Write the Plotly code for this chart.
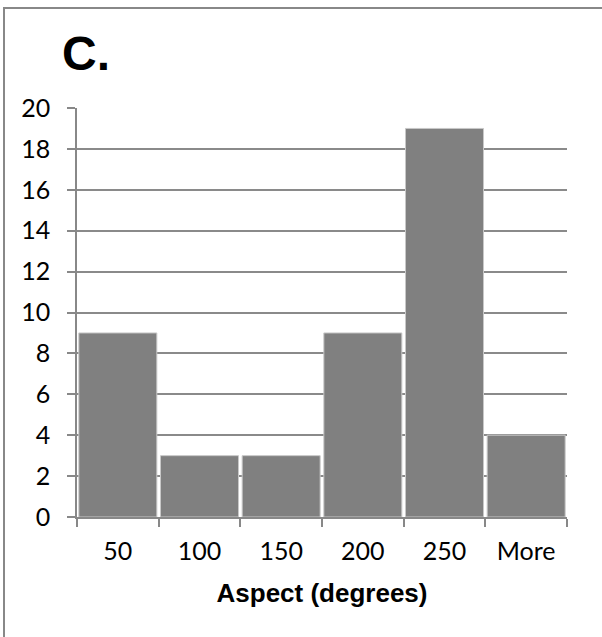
import plotly.graph_objects as go

categories = ["50", "100", "150", "200", "250", "More"]
counts = [9, 3, 3, 9, 19, 4]
y_ticks = [0, 2, 4, 6, 8, 10, 12, 14, 16, 18, 20]

W, H = 602, 637
L, R, T, B = 77, 35, 108, 120
pw, ph = W - L - R, H - T - B

fig = go.Figure()
fig.add_trace(go.Bar(
    x=categories, y=counts,
    marker=dict(color="#808080", line=dict(color="#c8c8c8", width=1)),
    showlegend=False,
))

def px_x(p):
    return (p - L) / pw

def px_y(p):
    return (H - B - p) / ph

fig.update_layout(
    width=W, height=H,
    margin=dict(l=L, r=R, t=T, b=B, pad=0),
    paper_bgcolor="white", plot_bgcolor="white",
    bargap=0.045,
    font=dict(family="Lato", size=25, color="black"),
    xaxis=dict(
        type="category",
        showgrid=False,
        showline=True, linecolor="#888888", linewidth=1.5,
        ticks="outside", tickson="boundaries", ticklen=8, tickwidth=1.5, tickcolor="#888888",
        tickfont=dict(family="Lato", size=25, color="black"),
        ticklabelstandoff=11,
        title=dict(text="<b>Aspect (degrees)</b>", standoff=20,
                   font=dict(family="Liberation Sans", size=26, color="black")),
    ),
    yaxis=dict(
        range=[0, 20], tickvals=y_ticks,
        showgrid=True, gridcolor="#8a8a8a", gridwidth=1.5,
        showline=True, linecolor="#888888", linewidth=1.5,
        ticks="outside", ticklen=8, tickwidth=1.5, tickcolor="#888888",
        tickfont=dict(family="Lato", size=25, color="black"),
        ticklabelstandoff=12,
        zeroline=False,
    ),
    shapes=[dict(
        type="rect", xref="paper", yref="paper",
        x0=px_x(4), x1=px_x(W + 20), y0=px_y(H + 20), y1=px_y(8),
        line=dict(color="#888888", width=2), fillcolor="rgba(0,0,0,0)", layer="below",
    )],
    annotations=[dict(
        text="<b>C.</b>", xref="paper", yref="paper",
        x=px_x(60), y=px_y(54), xanchor="left", yanchor="middle",
        showarrow=False, font=dict(family="Liberation Sans", size=48, color="black"),
    )],
)

fig.write_html("out.html")
